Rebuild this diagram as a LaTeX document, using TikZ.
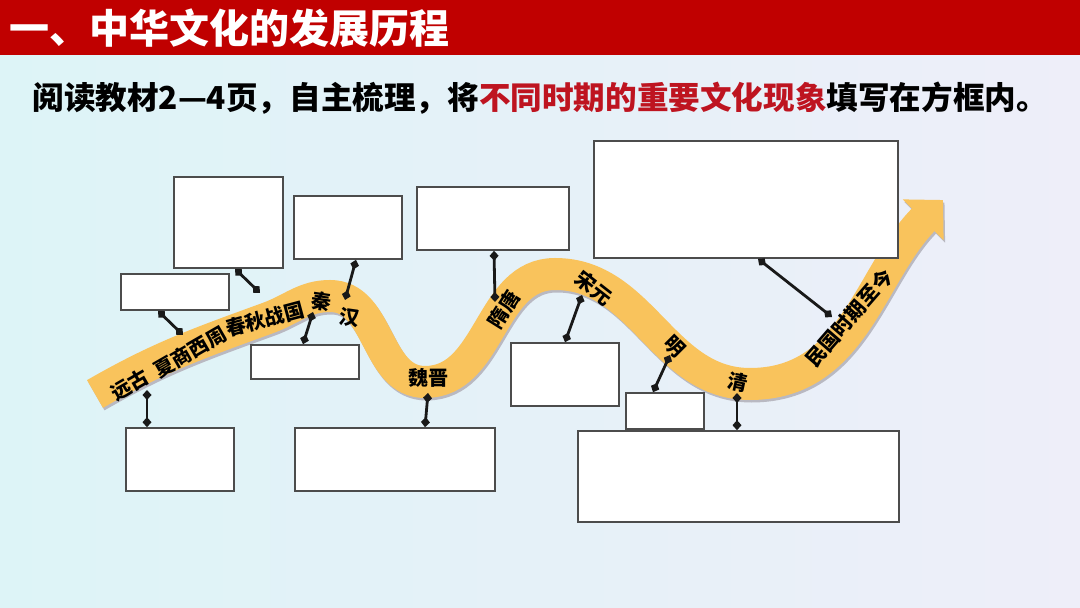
\documentclass[tikz,border=0pt]{standalone}
\usepackage{fontspec}
\newfontfamily\cjk{Noto Sans CJK SC}
\usetikzlibrary{arrows.meta,calc}
\definecolor{colHead}{HTML}{C00000}
\definecolor{colKey}{HTML}{BE1420}
\definecolor{colBand}{HTML}{F9C35C}
\definecolor{colShade}{HTML}{B9B9C2}
\definecolor{bgLeft}{HTML}{DDF4F7}
\definecolor{bgRight}{HTML}{EEEEF9}
\tikzset{
  blankbox/.style={draw=black!70,line width=0.8pt,fill=white,inner sep=0pt},
  link/.style={{Diamond[length=5pt,width=4.5pt]}-{Diamond[length=5pt,width=4.5pt]},
    line width=1.4pt,draw=black!90},
  band/.style={line width=16pt,draw=colBand,-{Triangle[length=14pt,width=28pt]}},
  bandshade/.style={band,draw=colShade,shift={(1.5,-2.5)}},
  era/.style={font=\cjk\bfseries\fontsize{10pt}{10pt}\selectfont,inner sep=0pt},
}
\newcommand{\ribbonroute}{(95,-394) to[out=30,in=200] (268,-318) to[out=20,in=180] (330,-296)
  to[out=0,in=180] (425,-382) to[out=0,in=180] (555,-274) to[out=0,in=180] (750,-384)
  to[out=0,in=225] (943,-200)}

\begin{document}
\begin{tikzpicture}[x=0.5pt,y=0.5pt]
  \useasboundingbox (0,0) rectangle (1080,-608);
  % background and header
  \fill[left color=bgLeft,right color=bgRight] (0,-55) rectangle (1080,-608);
  \fill[colHead] (0,0) rectangle (1080,-55);
  \node[anchor=west,text=white,inner sep=0pt,font=\cjk\bfseries\fontsize{20pt}{20pt}\selectfont]
    (title) at (9,-28) {一、中华文化的发展历程};
  \node[anchor=west,inner sep=0pt,font=\cjk\bfseries\fontsize{15.8pt}{15.8pt}\selectfont]
    (task) at (32,-98) {阅读教材2—4页，自主梳理，将\textcolor{colKey}{不同时期的重要文化现象}填写在方框内。};
  % the ribbon
  \draw[bandshade] \ribbonroute;
  \draw[band] \ribbonroute;
  \node[era,rotate=30] (eYuangu) at (130,-385) {远古};
  \node[era,rotate=30] (eXiashang) at (190,-352) {夏商西周};
  \node[era,rotate=15] (eChunqiu) at (265,-319) {春秋战国};
  \node[era,rotate=-8] (eQin) at (321,-301) {秦};
  \node[era,rotate=-8] (eHan) at (349,-318) {汉};
  \node[era] (eWeijin) at (428,-378) {魏晋};
  \node[era,rotate=58] (eSuitang) at (504,-309) {隋唐};
  \node[era,rotate=-38] (eSongyuan) at (594,-288) {宋元};
  \node[era,rotate=-45] (eMing) at (675,-347) {明};
  \node[era,rotate=-12] (eQing) at (738,-382) {清};
  \node[era,rotate=49] (eMinguo) at (849,-318) {民国时期至今};
  % points on the ribbon
  \coordinate (pYuangu) at (147,-390);
  \coordinate (pXiashang) at (183,-335);
  \coordinate (pChunqiu) at (260,-293);
  \coordinate (pQin) at (313,-312);
  \coordinate (pHan) at (345,-300);
  \coordinate (pWeijin) at (428,-393);
  \coordinate (pSuitang) at (495,-302);
  \coordinate (pSongyuan) at (582,-295);
  \coordinate (pMing) at (670,-355);
  \coordinate (pQing) at (737,-393);
  \coordinate (pMinguo) at (832,-317);
  % empty boxes
  \node[blankbox,minimum width=54.5pt,minimum height=45.5pt] (b1) at (228.5,-222.5) {};
  \node[blankbox,minimum width=54pt,minimum height=18pt] (b2) at (175,-292) {};
  \node[blankbox,minimum width=54pt,minimum height=31.5pt] (b3) at (348,-227.5) {};
  \node[blankbox,minimum width=54pt,minimum height=17pt] (b4) at (305,-362) {};
  \node[blankbox,minimum width=54pt,minimum height=31.5pt] (b5) at (180,-459.5) {};
  \node[blankbox,minimum width=76pt,minimum height=31.5pt] (b6) at (493,-218.5) {};
  \node[blankbox,minimum width=100pt,minimum height=31.5pt] (b7) at (395,-459.5) {};
  \node[blankbox,minimum width=152pt,minimum height=58.5pt] (b8) at (746,-199.5) {};
  \node[blankbox,minimum width=54pt,minimum height=31.5pt] (b9) at (565,-374.5) {};
  \node[blankbox,minimum width=39pt,minimum height=18pt] (b10) at (665,-411) {};
  \node[blankbox,minimum width=160.5pt,minimum height=45.5pt] (b11) at (738.5,-476.5) {};
  % connectors
  \draw[link] ($(b1.south)+(6.5,0)$) -- (pChunqiu);
  \draw[link] ($(b2.south)+(-17,0)$) -- (pXiashang);
  \draw[link] ($(b3.south)+(8,0)$) -- (pHan);
  \draw[link] ($(b4.north)+(-2,0)$) -- (pQin);
  \draw[link] ($(b5.north)+(-33,0)$) -- (pYuangu);
  \draw[link] ($(b6.south)+(1,0)$) -- (pSuitang);
  \draw[link] ($(b7.north)+(30,0)$) -- (pWeijin);
  \draw[link] ($(b8.south)+(12,0)$) -- (pMinguo);
  \draw[link] (b9.north) -- (pSongyuan);
  \draw[link] ($(b10.north)+(-12,0)$) -- (pMing);
  \draw[link] ($(b11.north)+(-1.5,0)$) -- (pQing);
\end{tikzpicture}
\end{document}
